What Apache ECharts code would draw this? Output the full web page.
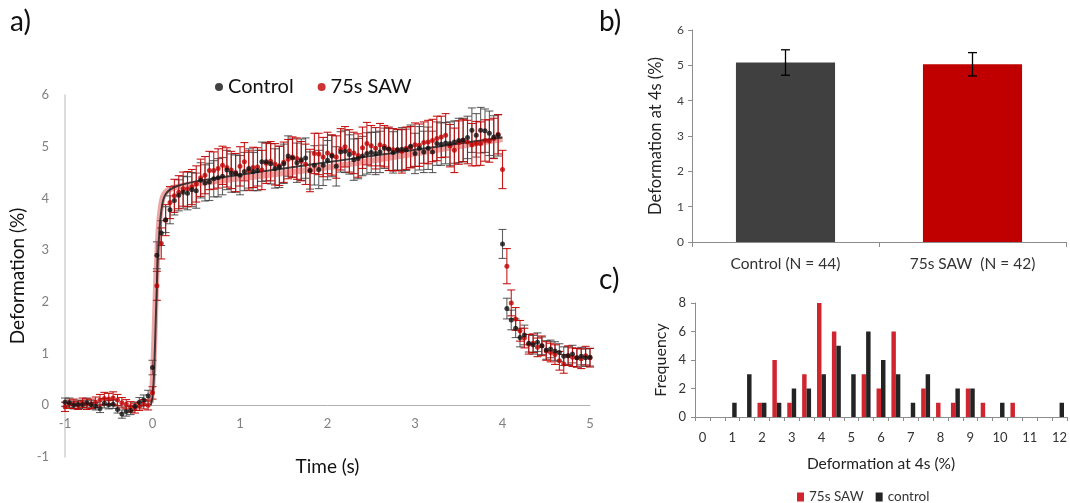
<!DOCTYPE html>
<html>
<head>
<meta charset="utf-8">
<script src="https://cdn.jsdelivr.net/npm/echarts@6/dist/echarts.min.js"></script>
<style>html,body{margin:0;padding:0;background:#fff}#c{width:1070px;height:503px}</style>
</head>
<body>
<div id="c"></div>
<script>
// ---------- Panel a: time course ----------
const times = [-1,-0.95,-0.9,-0.85,-0.8,-0.75,-0.7,-0.65,-0.6,-0.55,-0.5,-0.45,-0.4,-0.35,-0.3,-0.25,-0.2,-0.15,-0.1,-0.05,
0,0.05,0.1,0.15,0.2,0.25,0.3,0.35,0.4,0.45,0.5,0.55,0.6,0.65,0.7,0.75,0.8,0.85,0.9,0.95,
1,1.05,1.1,1.15,1.2,1.25,1.3,1.35,1.4,1.45,1.5,1.55,1.6,1.65,1.7,1.75,1.8,1.85,1.9,1.95,
2,2.05,2.1,2.15,2.2,2.25,2.3,2.35,2.4,2.45,2.5,2.55,2.6,2.65,2.7,2.75,2.8,2.85,2.9,2.95,
3,3.05,3.1,3.15,3.2,3.25,3.3,3.35,3.4,3.45,3.5,3.55,3.6,3.65,3.7,3.75,3.8,3.85,3.9,3.95,
4,4.05,4.1,4.15,4.2,4.25,4.3,4.35,4.4,4.45,4.5,4.55,4.6,4.65,4.7,4.75,4.8,4.85,4.9,4.95,5];

const controlMean = [0.06,0.05,0.00,0.02,0.01,0.05,0.01,-0.02,-0.06,0.04,0.01,0.02,-0.08,-0.17,-0.12,-0.10,-0.02,0.06,0.10,0.18,
0.73,2.90,3.33,3.59,3.78,3.96,4.06,4.12,4.10,4.17,4.15,4.35,4.30,4.32,4.38,4.40,4.43,4.55,4.49,4.48,
4.45,4.52,4.58,4.52,4.54,4.71,4.71,4.67,4.58,4.61,4.67,4.82,4.78,4.69,4.75,4.78,4.54,4.64,4.56,4.64,
4.74,4.82,4.62,4.90,4.91,4.85,4.75,4.77,4.82,4.87,4.89,4.87,4.90,4.97,4.95,4.89,4.94,4.95,4.94,5.01,
4.87,4.97,4.90,4.97,4.90,5.06,5.05,5.07,5.06,5.09,5.12,5.13,5.18,5.32,5.22,5.32,5.31,5.26,5.19,5.22,
3.12,1.87,1.65,1.49,1.31,1.36,1.20,1.17,1.22,1.15,1.07,1.09,1.05,1.02,0.95,0.96,0.99,0.92,0.95,0.92,0.93];

const controlErr = [0.08,0.09,0.07,0.08,0.08,0.09,0.08,0.07,0.08,0.09,0.08,0.08,0.07,0.08,0.09,0.08,0.08,0.09,0.10,0.11,
0.14,0.26,0.24,0.25,0.27,0.28,0.30,0.31,0.32,0.33,0.34,0.34,
0.35,0.36,0.35,0.37,0.36,0.38,0.37,0.36,0.38,0.37,
0.38,0.37,0.39,0.38,0.37,0.39,0.38,0.40,0.38,0.39,
0.37,0.38,0.40,0.39,0.36,0.38,0.37,0.39,0.38,0.40,
0.38,0.39,0.41,0.38,0.40,0.39,0.38,0.40,0.39,0.41,
0.40,0.39,0.41,0.40,0.39,0.42,0.40,0.41,0.39,0.42,
0.40,0.41,0.40,0.42,0.41,0.40,0.42,0.41,0.43,0.42,
0.41,0.43,0.42,0.44,0.42,0.43,0.41,0.40,
0.28,0.20,0.19,
0.18,0.18,0.19,0.17,0.18,0.18,0.17,0.18,0.17,0.18,0.17,0.18,0.17,0.17,0.18,0.17,0.17,0.17];

const sawMean = [-0.03,0.02,0.03,0.00,0.05,0.02,0.03,0.06,0.10,0.13,0.12,0.14,0.10,0.05,0.02,-0.03,-0.06,-0.02,0.02,0.00,
0.24,2.31,3.13,3.58,3.92,4.05,4.12,4.18,4.18,4.22,4.28,4.40,4.45,4.54,4.54,4.58,4.64,4.60,4.55,4.50,
4.62,4.71,4.54,4.60,4.61,4.55,4.68,4.72,4.66,4.63,4.70,4.76,4.80,4.77,4.72,4.66,4.54,4.87,4.86,4.80,
4.88,4.84,4.80,4.95,5.00,4.92,4.88,4.83,4.98,5.06,5.02,4.97,5.04,5.01,4.96,4.94,4.94,4.91,4.97,4.99,
5.04,5.03,5.08,5.09,5.12,5.16,5.19,5.22,5.02,4.93,5.08,5.12,5.09,5.04,5.06,5.06,5.12,5.11,5.16,5.24,
4.56,2.69,1.98,1.67,1.44,1.30,1.18,1.20,1.12,1.15,1.05,1.02,0.98,0.86,0.80,0.96,0.93,0.92,0.90,0.96,0.92];

const sawErr = [0.09,0.08,0.09,0.08,0.09,0.10,0.09,0.10,0.11,0.12,0.11,0.12,0.11,0.10,0.09,0.10,0.09,0.08,0.09,0.09,
0.12,0.28,0.30,0.30,0.31,0.32,0.32,0.33,0.34,0.34,0.35,0.36,
0.36,0.37,0.36,0.38,0.37,0.38,0.36,0.37,0.38,0.37,
0.38,0.39,0.37,0.38,0.39,0.38,0.40,0.38,0.39,0.38,
0.39,0.40,0.38,0.39,0.41,0.39,0.40,0.38,0.40,0.39,
0.41,0.40,0.39,0.41,0.40,0.42,0.40,0.41,0.39,0.40,
0.41,0.40,0.42,0.41,0.40,0.42,0.41,0.40,0.42,0.41,
0.40,0.42,0.41,0.43,0.40,0.42,0.41,0.43,0.42,0.41,
0.42,0.41,0.43,0.42,0.40,0.41,0.39,0.38,
0.37,0.34,0.25,
0.22,0.20,0.19,0.19,0.18,0.18,0.19,0.18,0.18,0.19,0.18,0.18,0.19,0.18,0.18,0.19,0.18,0.18];

const fitTimes   = [-0.02,0,0.02,0.04,0.06,0.08,0.1,0.12,0.15,0.2,0.3,0.5,0.75,1,1.5,2,2.5,3,3.5,4];
const fitControl = [0.00,0.15,0.70,1.80,2.80,3.40,3.75,3.95,4.08,4.17,4.25,4.33,4.40,4.46,4.58,4.70,4.82,4.94,5.06,5.18];
const fitSaw     = [0.05,0.40,1.20,2.30,3.10,3.60,3.88,4.03,4.12,4.18,4.23,4.29,4.34,4.39,4.49,4.60,4.73,4.87,5.01,5.15];

// ---------- Panel b: bar at 4 s ----------
const barCats = ['Control (N = 44)', '75s SAW  (N = 42)'];
const barVals = [5.08, 5.03];
const barErr  = [0.36, 0.33];

// ---------- Panel c: histogram ----------
const binLabels = ['0','0.5','1','1.5','2','2.5','3','3.5','4','4.5','5','5.5','6','6.5','7','7.5','8','8.5','9','9.5','10','10.5','11','11.5','12'];
const histSaw = [0,0,0,0,1,4,1,3,8,6,0,3,2,6,0,2,1,1,2,1,0,1,0,0,0];
const histCtl = [0,0,1,3,1,1,2,2,3,5,3,6,4,3,1,3,0,2,2,0,1,0,0,0,1];

const FONT = 'Lato, "Open Sans", sans-serif';

function pts(xs, ys, es) {
  return xs.map((x, i) => es ? [x, ys[i], es[i]] : [x, ys[i]]);
}
function errRender(capW, color, lw) {
  return function (params, api) {
    const x = api.value(0), y = api.value(1), e = api.value(2);
    const top = api.coord([x, y + e]);
    const bot = api.coord([x, y - e]);
    const st = { stroke: color, lineWidth: lw };
    return { type: 'group', children: [
      { type: 'line', shape: { x1: top[0], y1: top[1], x2: bot[0], y2: bot[1] }, style: st },
      { type: 'line', shape: { x1: top[0] - capW / 2, y1: top[1], x2: top[0] + capW / 2, y2: top[1] }, style: st },
      { type: 'line', shape: { x1: bot[0] - capW / 2, y1: bot[1], x2: bot[0] + capW / 2, y2: bot[1] }, style: st }
    ]};
  };
}

const chart = echarts.init(document.getElementById('c'), null, { renderer: 'canvas' });
chart.setOption({
  animation: false,
  textStyle: { fontFamily: FONT },
  grid: [
    { left: 65, right: 480, top: 95, bottom: 46, outerBoundsMode: 'none', containLabel: false },
    { left: 692, right: 4, top: 30, bottom: 261, outerBoundsMode: 'none', containLabel: false },
    { left: 695, right: 3, top: 303, bottom: 86, outerBoundsMode: 'none', containLabel: false }
  ],
  legend: [
    { data: ['Control', '75s SAW'], left: 210, top: 72, icon: 'circle', itemWidth: 8, itemHeight: 8, itemGap: 24,
      textStyle: { fontSize: 20, color: '#111', fontFamily: FONT } },
    { data: ['hist75', 'histCtl'], left: 792, top: 485, icon: 'rect', itemWidth: 7, itemHeight: 9, itemGap: 12,
      formatter: n => n === 'hist75' ? '75s SAW' : 'control',
      textStyle: { fontSize: 13.5, color: '#333', fontFamily: FONT } }
  ],
  xAxis: [
    { gridIndex: 0, type: 'value', min: -1, max: 5, interval: 1,
      axisLine: { onZero: true, lineStyle: { color: '#b0b0b0', width: 1 } },
      axisTick: { show: false }, splitLine: { show: false },
      axisLabel: { color: '#808080', fontSize: 13, margin: -40 },
      name: 'Time (s)', nameLocation: 'middle', nameGap: 0, nameMoveOverlap: false,
      nameTextStyle: { fontSize: 19, color: '#111' } },
    { gridIndex: 1, type: 'category', data: barCats,
      axisLine: { lineStyle: { color: '#8c8c8c' } },
      axisTick: { show: true, length: 5, lineStyle: { color: '#8c8c8c' } },
      axisLabel: { color: '#333', fontSize: 15.5, margin: 14 } },
    { gridIndex: 2, type: 'category', data: binLabels,
      axisLine: { lineStyle: { color: '#8c8c8c' } },
      axisTick: { show: true, interval: 0, length: 4, lineStyle: { color: '#8c8c8c' } },
      axisLabel: { interval: 1, color: '#333', fontSize: 13, margin: 14 },
      name: 'Deformation at 4s (%)', nameLocation: 'middle', nameGap: 39,
      nameTextStyle: { fontSize: 15.5, color: '#222' } }
  ],
  yAxis: [
    { gridIndex: 0, type: 'value', min: -1, max: 6, interval: 1,
      axisLine: { show: true, onZero: false, lineStyle: { color: '#d0d0d0', width: 1.5 } },
      axisTick: { show: false }, splitLine: { show: false },
      axisLabel: { color: '#808080', fontSize: 13, margin: 16 },
      name: 'Deformation (%)', nameLocation: 'middle', nameGap: 38,
      nameTextStyle: { fontSize: 19, color: '#111' } },
    { gridIndex: 1, type: 'value', min: 0, max: 6, interval: 1,
      axisLine: { show: true, lineStyle: { color: '#8c8c8c' } },
      axisTick: { show: true, length: 4, lineStyle: { color: '#8c8c8c' } }, splitLine: { show: false },
      axisLabel: { color: '#404040', fontSize: 12, margin: 8 },
      name: 'Deformation at 4s (%)', nameLocation: 'middle', nameGap: 28,
      nameTextStyle: { fontSize: 16.5, color: '#222' } },
    { gridIndex: 2, type: 'value', min: 0, max: 8, interval: 2,
      axisLine: { show: true, lineStyle: { color: '#8c8c8c' } },
      axisTick: { show: true, length: 4, lineStyle: { color: '#8c8c8c' } }, splitLine: { show: false },
      axisLabel: { color: '#333', fontSize: 13, margin: 9 },
      name: 'Frequency', nameLocation: 'middle', nameGap: 26,
      nameTextStyle: { fontSize: 16, color: '#222' } }
  ],
  series: [
    { type: 'custom', xAxisIndex: 0, yAxisIndex: 0, renderItem: errRender(8, 'rgba(45,45,45,0.75)', 1.1),
      data: pts(times, controlMean, controlErr), encode: { x: 0, y: 1 }, z: 1, silent: true },
    { type: 'custom', xAxisIndex: 0, yAxisIndex: 0, renderItem: errRender(8, 'rgba(192,0,0,0.9)', 1.1),
      data: pts(times, sawMean, sawErr), encode: { x: 0, y: 1 }, z: 2, silent: true },
    { type: 'line', xAxisIndex: 0, yAxisIndex: 0, data: pts(fitTimes, fitSaw), showSymbol: false, smooth: 0.2,
      lineStyle: { color: 'rgba(215,60,60,0.45)', width: 6 }, z: 3, silent: true },
    { type: 'line', xAxisIndex: 0, yAxisIndex: 0, data: pts(fitTimes, fitControl), showSymbol: false, smooth: 0.2,
      lineStyle: { color: 'rgba(35,35,35,0.85)', width: 2 }, z: 4, silent: true },
    { name: '75s SAW', type: 'scatter', xAxisIndex: 0, yAxisIndex: 0, data: pts(times, sawMean),
      symbolSize: 5, itemStyle: { color: '#C00000' }, z: 5 },
    { name: 'Control', type: 'scatter', xAxisIndex: 0, yAxisIndex: 0, data: pts(times, controlMean),
      symbolSize: 5, itemStyle: { color: '#111' }, z: 6 },

    { type: 'bar', xAxisIndex: 1, yAxisIndex: 1, barWidth: '53%',
      data: barVals.map((v, i) => ({ value: v, itemStyle: { color: i === 0 ? '#404040' : '#C00000' } })) },
    { type: 'custom', xAxisIndex: 1, yAxisIndex: 1, renderItem: errRender(9, '#000', 1.3),
      data: barVals.map((v, i) => [i, v, barErr[i]]), encode: { x: 0, y: 1 }, z: 5 },

    { name: 'hist75', type: 'bar', xAxisIndex: 2, yAxisIndex: 2, data: histSaw,
      barGap: '0%', barCategoryGap: '40%', itemStyle: { color: '#D0252E' } },
    { name: 'histCtl', type: 'bar', xAxisIndex: 2, yAxisIndex: 2, data: histCtl,
      barGap: '0%', barCategoryGap: '40%', itemStyle: { color: '#232323' } }
  ],
  graphic: [
    { type: 'text', left: 10, top: 8, style: { text: 'a)', fontSize: 28, fontFamily: FONT, fill: '#111' } },
    { type: 'text', left: 599, top: 8, style: { text: 'b)', fontSize: 28, fontFamily: FONT, fill: '#111' } },
    { type: 'text', left: 599, top: 266, style: { text: 'c)', fontSize: 28, fontFamily: FONT, fill: '#111' } }
  ]
});
</script>
</body>
</html>
